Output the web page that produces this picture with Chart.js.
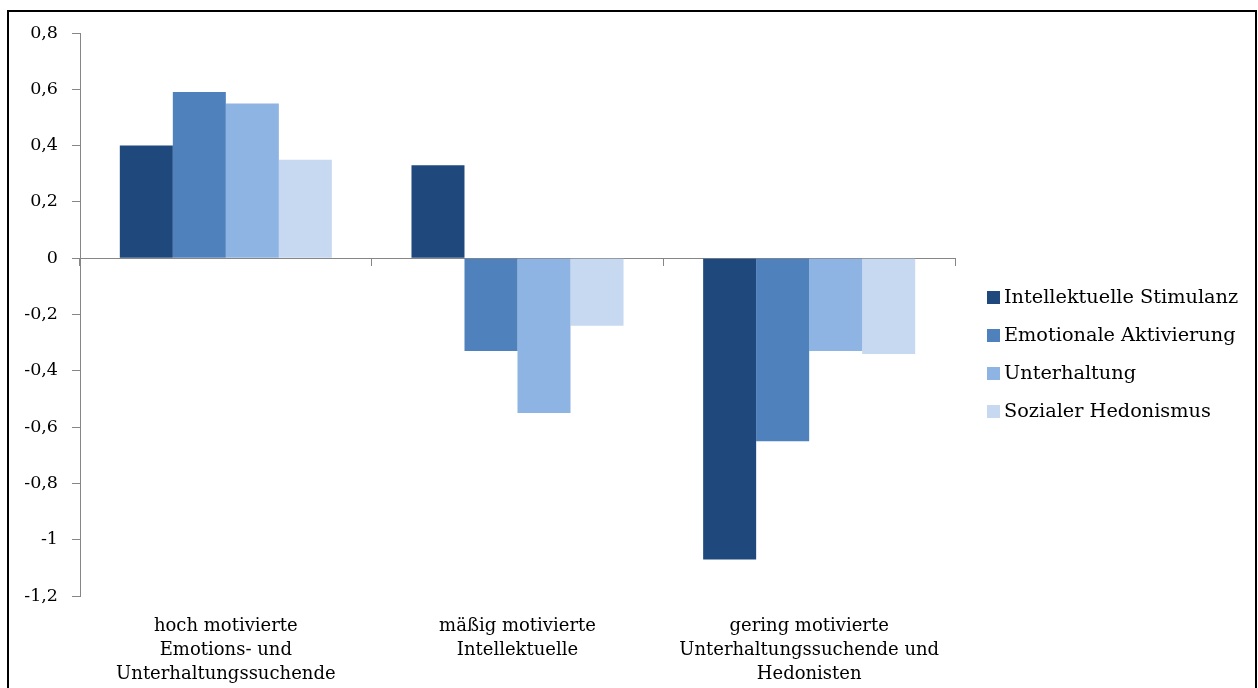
<!DOCTYPE html>
<html>
<head>
<meta charset="utf-8">
<script src="https://cdn.jsdelivr.net/npm/chart.js@4.4.0/dist/chart.umd.min.js"></script>
<style>
  html, body { margin: 0; padding: 0; background: #ffffff; overflow: hidden; }
  #wrap { position: relative; width: 1258px; height: 688px; }
  canvas { display: block; }
</style>
</head>
<body>
<div id="wrap"><canvas id="c" width="1258" height="688"></canvas></div>
<script>
// Gruppen (Kategorien der x-Achse), mehrzeilig beschriftet
const categories = [
  ['hoch motivierte', 'Emotions- und', 'Unterhaltungssuchende'],
  ['mäßig motivierte', 'Intellektuelle'],
  ['gering motivierte', 'Unterhaltungssuchende und', 'Hedonisten']
];

// Reihen
const seriesNames = ['Intellektuelle Stimulanz', 'Emotionale Aktivierung', 'Unterhaltung', 'Sozialer Hedonismus'];
const intellektuelleStimulanz = [0.40, 0.33, -1.07];
const emotionaleAktivierung   = [0.59, -0.33, -0.65];
const unterhaltung            = [0.55, -0.55, -0.33];
const sozialerHedonismus      = [0.35, -0.24, -0.34];

// y-Achse
const yMin = -1.2;
const yMax = 0.8;
const yStep = 0.2;

const seriesColors = ['#1F497D', '#4F81BD', '#8EB4E3', '#C6D9F1'];
const seriesValues = [intellektuelleStimulanz, emotionaleAktivierung, unterhaltung, sozialerHedonismus];

const SERIF = "'DejaVu Serif', 'Liberation Serif', serif";
const AXIS_GREY = '#868686';

function fmtTick(v) {
  const r = Math.round(v * 10) / 10;
  return r === 0 ? '0' : String(r).replace('.', ',');
}

// weißer Hintergrund + schwarzer Rahmen
const framePlugin = {
  id: 'frame',
  beforeDraw(chart) {
    const ctx = chart.ctx;
    ctx.save();
    ctx.fillStyle = '#ffffff';
    ctx.fillRect(0, 0, chart.width, chart.height);
    ctx.restore();
  },
  afterDraw(chart) {
    const ctx = chart.ctx;
    ctx.save();
    ctx.fillStyle = '#000000';
    ctx.fillRect(7, 10, 1250, 2);
    ctx.fillRect(7, 10, 2, chart.height - 10);
    ctx.fillRect(1255, 10, 2, chart.height - 10);
    ctx.restore();
  }
};

// Legende rechts neben der Zeichenfläche
const legendPlugin = {
  id: 'sideLegend',
  afterDraw(chart) {
    const ctx = chart.ctx;
    const area = chart.chartArea;
    const x0 = area.right + 32;
    const rowH = 38;
    const yStart = 297;
    ctx.save();
    ctx.font = '19.3px ' + SERIF;
    ctx.textBaseline = 'middle';
    ctx.textAlign = 'left';
    chart.data.datasets.forEach((ds, i) => {
      const cy = yStart + i * rowH;
      ctx.fillStyle = ds.backgroundColor;
      ctx.fillRect(x0, cy - 6, 13, 13);
      ctx.fillStyle = '#000000';
      ctx.fillText(ds.label, x0 + 17, cy + 1);
    });
    ctx.restore();
  }
};

const datasets = seriesNames.map((name, i) => ({
  label: name,
  data: seriesValues[i],
  backgroundColor: seriesColors[i],
  borderWidth: 0,
  categoryPercentage: 0.727,
  barPercentage: 1.0
}));

new Chart(document.getElementById('c'), {
  type: 'bar',
  data: { labels: categories, datasets },
  options: {
    responsive: false,
    animation: false,
    devicePixelRatio: 1,
    layout: { padding: { left: 0, right: 303, top: 33, bottom: 0 } },
    plugins: {
      legend: { display: false },
      tooltip: { enabled: false }
    },
    scales: {
      x: {
        position: { y: 0 },
        offset: true,
        ticks: { display: false },
        grid: { offset: true, drawOnChartArea: false, drawTicks: true, tickLength: 7, color: AXIS_GREY },
        border: { color: AXIS_GREY, width: 1 }
      },
      x2: {
        type: 'category',
        position: 'bottom',
        offset: true,
        grid: { display: false, drawTicks: false },
        border: { display: false },
        ticks: {
          color: '#000000',
          font: { family: SERIF, size: 18, lineHeight: 1.333 },
          padding: 18,
          maxRotation: 0,
          autoSkip: false
        },
        afterFit(scale) { scale.height = 92; }
      },
      y: {
        min: yMin,
        max: yMax,
        ticks: {
          stepSize: yStep,
          color: '#000000',
          font: { family: SERIF, size: 17.5 },
          padding: 14,
          callback: (v) => fmtTick(v)
        },
        grid: { drawOnChartArea: false, drawTicks: true, tickLength: 8, color: AXIS_GREY },
        border: { color: AXIS_GREY, width: 1 },
        afterFit(scale) { scale.width = 80; }
      }
    }
  },
  plugins: [framePlugin, legendPlugin]
});
</script>
</body>
</html>
